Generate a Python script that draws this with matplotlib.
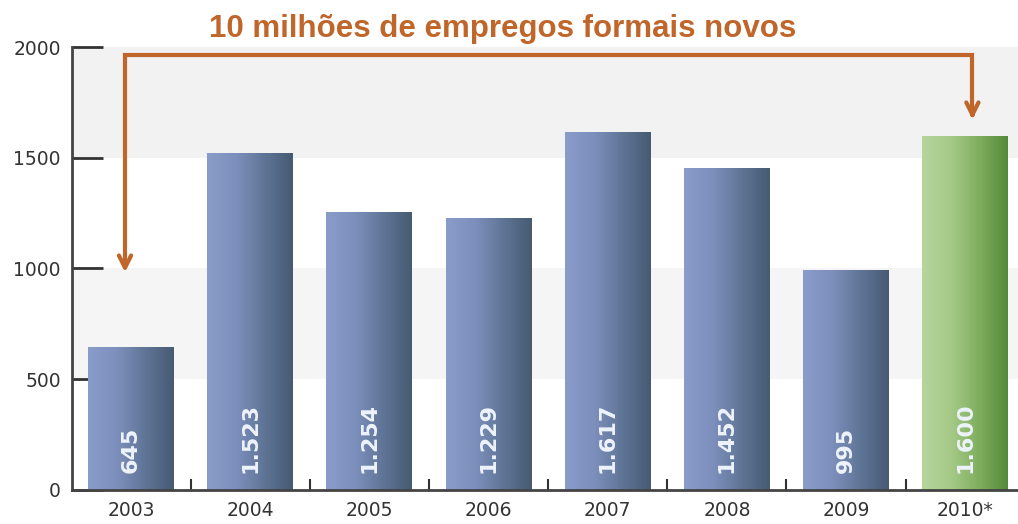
import matplotlib.pyplot as plt
import numpy as np
from matplotlib.colors import LinearSegmentedColormap

anos = ['2003', '2004', '2005', '2006', '2007', '2008', '2009', '2010*']
empregos = [645, 1523, 1254, 1229, 1617, 1452, 995, 1600]
rotulos = ['645', '1.523', '1.254', '1.229', '1.617', '1.452', '995', '1.600']

laranja = '#c0662a'
azul = LinearSegmentedColormap.from_list('azul', ['#8a9dca', '#7d90bd', '#5f7596', '#465a72'])
verde = LinearSegmentedColormap.from_list('verde', ['#b6d59c', '#a6ca88', '#7fae5e', '#548a3a'])

fig = plt.figure(figsize=(10.18, 5.24), dpi=100)
ax = fig.add_axes([0.0707, 0.0649, 0.929, 0.8454])

# faixas de fundo
ax.axhspan(1500, 2000, color='#f2f2f2', zorder=0, lw=0)
ax.axhspan(500, 1000, color='#f5f5f5', zorder=0, lw=0)

x = np.arange(len(anos))
bars = ax.bar(x, empregos, width=0.72, color='none', zorder=2)
grad = np.linspace(0, 1, 256).reshape(1, -1)
for i, b in enumerate(bars):
    cmap = verde if i == len(bars) - 1 else azul
    x0, y0 = b.get_x(), b.get_y()
    w, h = b.get_width(), b.get_height()
    im = ax.imshow(grad, cmap=cmap, aspect='auto', extent=[x0, x0 + w, y0, y0 + h], zorder=2)
    im.set_clip_path(b)
    ax.text(x[i], 75, rotulos[i], rotation=90, ha='center', va='bottom', color='#eef3fb',
            fontsize=16, fontweight='bold', family='DejaVu Sans', zorder=3)

ax.set_xlim(-0.495, 7.44)
ax.set_ylim(0, 2000)
ax.set_xticks(x)
ax.set_xticklabels(anos)
ax.set_xticks(x[:-1] + 0.5, minor=True)
ax.set_yticks([0, 500, 1000, 1500, 2000])
ax.tick_params(axis='y', direction='in', length=22, width=2, color='#333333', labelsize=13.5,
               labelcolor='#333333', pad=8)
ax.tick_params(axis='x', which='major', length=0, labelsize=13.5, labelcolor='#333333', pad=8)
ax.tick_params(axis='x', which='minor', direction='in', length=8, width=1.5, color='#333333')
for s in ['top', 'right']:
    ax.spines[s].set_visible(False)
for s in ['left', 'bottom']:
    ax.spines[s].set_color('#444444')
    ax.spines[s].set_linewidth(2)

# seta de anotacao
kw = dict(color=laranja, lw=3, clip_on=False, zorder=5)
ax.plot([-0.05, -0.05, 7.06, 7.06], [1010, 1964, 1964, 1700], solid_joinstyle='miter', **kw)
ax.annotate('', xy=(-0.05, 970), xytext=(-0.05, 1030),
            arrowprops=dict(arrowstyle='->', color=laranja, lw=3, mutation_scale=22))
ax.annotate('', xy=(7.06, 1661), xytext=(7.06, 1720), annotation_clip=False,
            arrowprops=dict(arrowstyle='->', color=laranja, lw=3, mutation_scale=22))

fig.text(0.494, 0.945, '10 milhões de empregos formais novos', ha='center', va='center',
         color=laranja, fontsize=22.5, fontweight='bold', family='Liberation Sans')

fig.savefig('out.png', dpi=100)
